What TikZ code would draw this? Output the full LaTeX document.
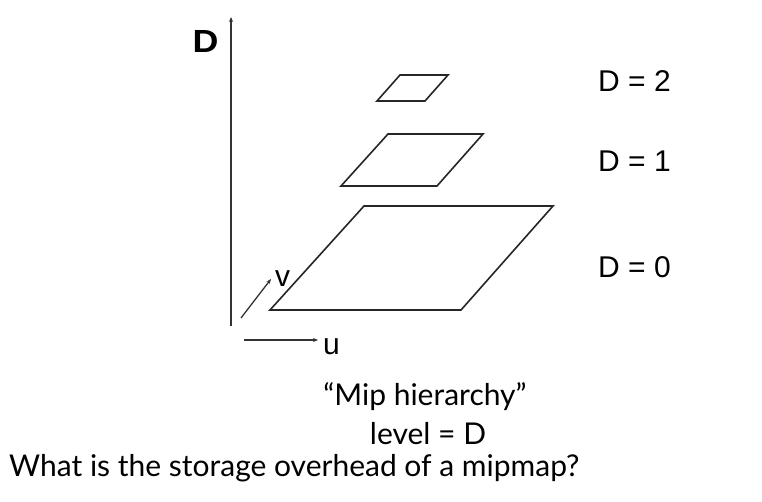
\documentclass[tikz,border=0pt]{standalone}
\usepackage{fontspec}
\setmainfont{Liberation Sans}
\newfontfamily\capfont{Lato}
\usetikzlibrary{arrows.meta}
\begin{document}
\begin{tikzpicture}[x=1pt,y=-1pt,
  axisline/.style={draw=black!80,line width=1.3pt,-{Stealth[length=5pt,width=4pt]}},
  mipsq/.style={draw=black!85,line width=1.6pt,line join=miter},
  lbl/.style={font=\fontsize{30}{30}\selectfont,anchor=base west,inner sep=0pt},
  captxt/.style={font=\capfont\fontsize{30}{30}\selectfont,anchor=base,inner sep=0pt}]
\useasboundingbox (0,0) rectangle (762,502);
% axes
\coordinate (o) at (231,326);
\coordinate (top) at (231,17);
\draw[axisline] (o) -- (top);
\coordinate (u0) at (244,340);
\coordinate (u1) at (318,340);
\draw[axisline] (u0) -- (u1);
\coordinate (v0) at (241,318);
\coordinate (v1) at (271,279);
\draw[axisline] (v0) -- (v1);
\node[font=\bfseries\fontsize{32}{32}\selectfont,anchor=base,inner sep=0pt,xscale=1.12] (D) at (205.5,53) {D};
\node[lbl] (u) at (323,354) {u};
\node[lbl] (v) at (275,287) {v};
% levels
\draw[mipsq] (270,310) -- (461,310) -- (553,206) -- (364,206) -- cycle;
\draw[mipsq] (341,186) -- (437,186) -- (483,134) -- (388,134) -- cycle;
\draw[mipsq] (377,101) -- (425,101) -- (448,75) -- (400,75) -- cycle;
% labels
\node[lbl] (d2) at (598,92) {D = 2};
\node[lbl] (d1) at (598,172) {D = 1};
\node[lbl] (d0) at (598,277) {D = 0};
\node[captxt] (mh) at (425,405) {“Mip hierarchy”};
\node[captxt] (lv) at (428,444) {level = D};
\node[captxt,anchor=base west] (q) at (9,476) {What is the storage overhead of a mipmap?};
\end{tikzpicture}
\end{document}
